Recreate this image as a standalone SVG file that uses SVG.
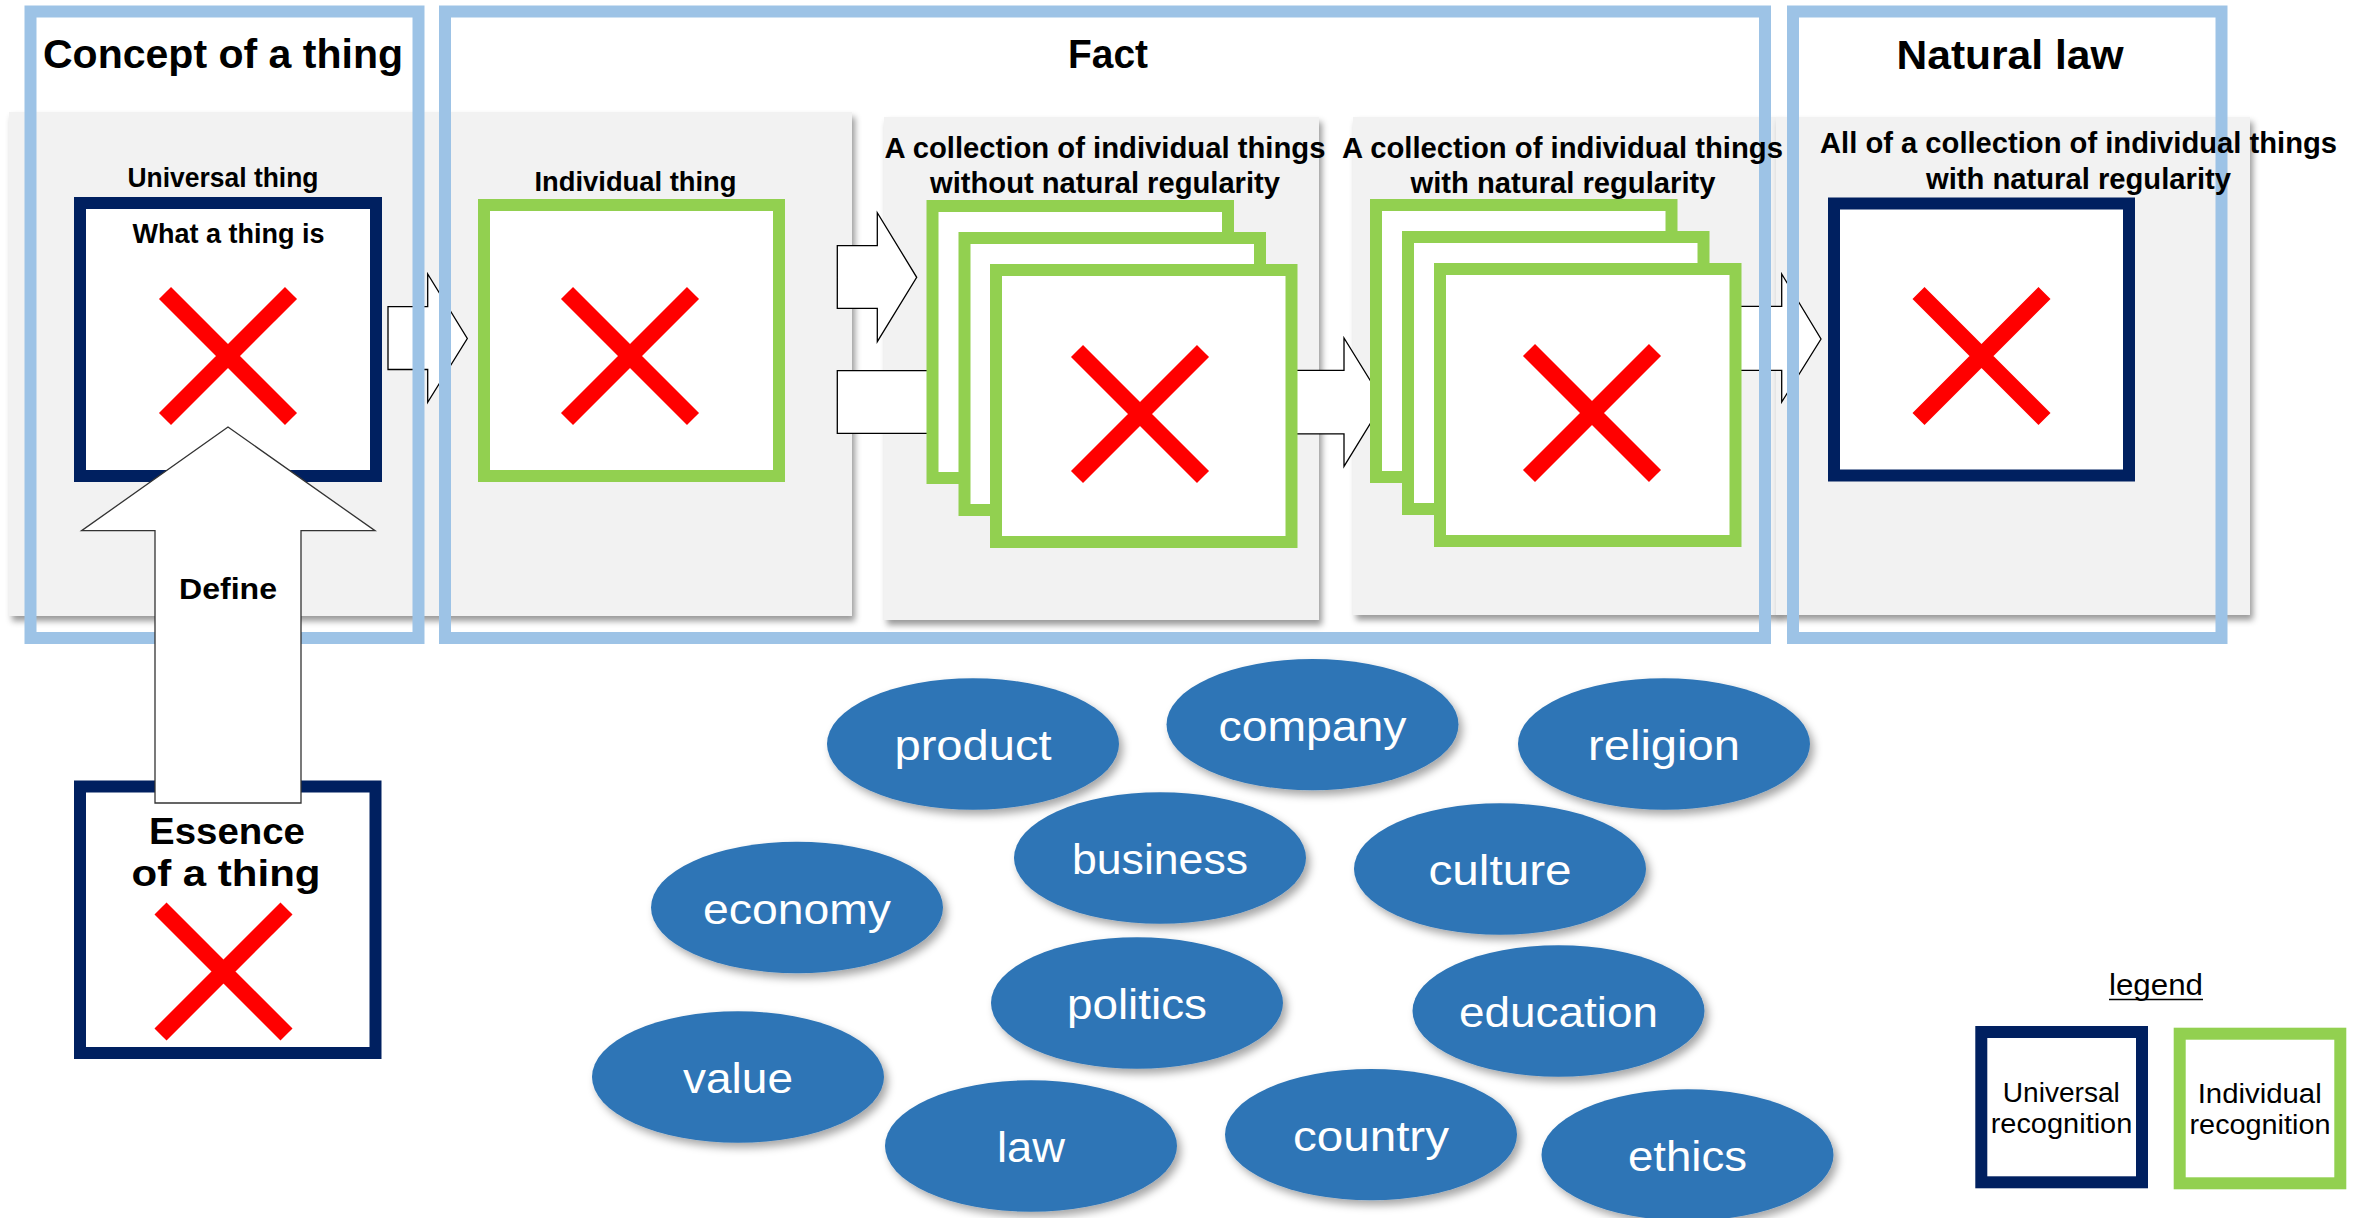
<svg xmlns="http://www.w3.org/2000/svg" width="2358" height="1218" viewBox="0 0 2358 1218">
<defs>
<filter id="psh" x="-5%" y="-5%" width="110%" height="115%">
<feDropShadow dx="3" dy="5" stdDeviation="3" flood-color="#000" flood-opacity="0.4"/>
</filter>
<filter id="esh" x="-10%" y="-15%" width="125%" height="135%">
<feDropShadow dx="4" dy="5" stdDeviation="4" flood-color="#000" flood-opacity="0.35"/>
</filter>
<style>
.panel{fill:#F2F2F2;filter:url(#psh)}
.frame{fill:none;stroke:#9DC3E6;stroke-width:12}
.navy{fill:#fff;stroke:#002060;stroke-width:12}
.green{fill:#fff;stroke:#92D050;stroke-width:12}
.x{fill:none;stroke:#FF0000;stroke-width:17;stroke-linecap:butt}
.arrow{fill:#fff;stroke:#000;stroke-width:1.3;stroke-linejoin:miter}
.darrow{fill:#fff;stroke:#333;stroke-width:1.3;stroke-linejoin:miter}
.ell{fill:#2E75B6;filter:url(#esh)}
.t{font-family:"Liberation Sans",Arial,sans-serif;fill:#000;text-anchor:middle}
.b{font-weight:bold}
.hd{font-size:40px}
.sub{font-size:27px}
.sub2{font-size:29px}
.et{font-family:"Liberation Sans",Arial,sans-serif;font-size:42px;fill:#fff;text-anchor:middle}
.lg{font-size:27px}
</style>
</defs>
<rect width="2358" height="1218" fill="#fff"/>

<g id="panels">
<rect class="panel" x="9" y="112" width="843" height="504"/>
<rect class="panel" x="884" y="117" width="435" height="503"/>
<rect class="panel" x="1353" y="117" width="425" height="498"/>
<rect class="panel" x="1776" y="117" width="474" height="498"/>
</g>

<g id="topics">
<g id="n-product"><ellipse class="ell" cx="973" cy="744" rx="146" ry="65.7"/><text class="et" x="973" y="760" textLength="157" lengthAdjust="spacingAndGlyphs">product</text></g>
<g id="n-company"><ellipse class="ell" cx="1312.5" cy="724.6" rx="146" ry="65.7"/><text class="et" x="1312.5" y="740.6" textLength="188" lengthAdjust="spacingAndGlyphs">company</text></g>
<g id="n-religion"><ellipse class="ell" cx="1664" cy="744" rx="146" ry="65.7"/><text class="et" x="1664" y="760" textLength="152" lengthAdjust="spacingAndGlyphs">religion</text></g>
<g id="n-business"><ellipse class="ell" cx="1160" cy="858" rx="146" ry="65.7"/><text class="et" x="1160" y="874" textLength="176" lengthAdjust="spacingAndGlyphs">business</text></g>
<g id="n-culture"><ellipse class="ell" cx="1500" cy="869" rx="146" ry="65.7"/><text class="et" x="1500" y="885" textLength="143" lengthAdjust="spacingAndGlyphs">culture</text></g>
<g id="n-economy"><ellipse class="ell" cx="797" cy="907.5" rx="146" ry="65.7"/><text class="et" x="797" y="923.5" textLength="188" lengthAdjust="spacingAndGlyphs">economy</text></g>
<g id="n-politics"><ellipse class="ell" cx="1137" cy="1003" rx="146" ry="65.7"/><text class="et" x="1137" y="1019" textLength="140" lengthAdjust="spacingAndGlyphs">politics</text></g>
<g id="n-education"><ellipse class="ell" cx="1558.5" cy="1011" rx="146" ry="65.7"/><text class="et" x="1558.5" y="1027" textLength="199" lengthAdjust="spacingAndGlyphs">education</text></g>
<g id="n-value"><ellipse class="ell" cx="738" cy="1077" rx="146" ry="65.7"/><text class="et" x="738" y="1093" textLength="110" lengthAdjust="spacingAndGlyphs">value</text></g>
<g id="n-law"><ellipse class="ell" cx="1031" cy="1146" rx="146" ry="65.7"/><text class="et" x="1031" y="1162" textLength="68" lengthAdjust="spacingAndGlyphs">law</text></g>
<g id="n-country"><ellipse class="ell" cx="1371" cy="1134.6" rx="146" ry="65.7"/><text class="et" x="1371" y="1150.6" textLength="156" lengthAdjust="spacingAndGlyphs">country</text></g>
<g id="n-ethics"><ellipse class="ell" cx="1687.5" cy="1155" rx="146" ry="65.7"/><text class="et" x="1687.5" y="1171" textLength="119" lengthAdjust="spacingAndGlyphs">ethics</text></g>
</g>

<g id="connectors">
<polygon class="arrow" points="388,306.7 427.7,306.7 427.7,274 467.3,338.5 427.7,402.3 427.7,369.5 388,369.5"/>
<polygon class="arrow" points="837.3,245.7 877.3,245.7 877.3,212.7 916.7,277.3 877.3,341.7 877.3,308.3 837.3,308.3"/>
<polygon class="arrow" points="837.3,370.7 950,370.7 950,338 990,402 950,466 950,433.3 837.3,433.3"/>
<polygon class="arrow" points="1280,370.3 1344,370.3 1344,338 1383.5,402 1344,466.4 1344,433.8 1280,433.8"/>
<polygon class="arrow" points="1735,306.4 1781.7,306.4 1781.7,274 1821,339 1781.7,402 1781.7,370.4 1735,370.4"/>
</g>

<g id="frames">
<rect class="frame" x="30.5" y="11.5" width="388" height="626.5"/>
<rect class="frame" x="445" y="11.5" width="1320" height="626.5"/>
<rect class="frame" x="1793" y="11.5" width="428.5" height="626.5"/>
<text class="t b hd" x="223" y="68" textLength="360" lengthAdjust="spacingAndGlyphs">Concept of a thing</text>
<text class="t b hd" x="1108" y="68" textLength="80" lengthAdjust="spacingAndGlyphs">Fact</text>
<text class="t b hd" x="2010" y="69" textLength="227" lengthAdjust="spacingAndGlyphs">Natural law</text>
</g>

<g id="universal-thing">
<rect class="navy" x="80" y="203" width="296" height="273"/>
<path class="x" d="M165,293 L291,419 M291,293 L165,419"/>
<text class="t b sub" x="223" y="187" textLength="191" lengthAdjust="spacingAndGlyphs">Universal thing</text>
<text class="t b sub" x="228.5" y="242.5" textLength="192" lengthAdjust="spacingAndGlyphs">What a thing is</text>
</g>

<g id="individual-thing">
<rect class="green" x="484" y="205" width="295" height="271"/>
<path class="x" d="M567,293 L693,419 M693,293 L567,419"/>
<text class="t b sub" x="635.5" y="190.7" textLength="202" lengthAdjust="spacingAndGlyphs">Individual thing</text>
</g>

<g id="collection-without">
<rect class="green" x="932.5" y="206" width="295.5" height="272"/>
<rect class="green" x="964.5" y="238" width="295.5" height="272"/>
<rect class="green" x="996" y="270" width="295.5" height="272"/>
<path class="x" d="M1077,351 L1203,477 M1203,351 L1077,477"/>
<text class="t b sub2" x="1105" y="157.5" textLength="441" lengthAdjust="spacingAndGlyphs">A collection of individual things</text>
<text class="t b sub2" x="1105" y="193" textLength="350" lengthAdjust="spacingAndGlyphs">without natural regularity</text>
</g>

<g id="collection-with">
<rect class="green" x="1376" y="205" width="295.5" height="272"/>
<rect class="green" x="1408" y="237" width="295.5" height="272"/>
<rect class="green" x="1440" y="269" width="295.5" height="272"/>
<path class="x" d="M1529,350 L1655,476 M1655,350 L1529,476"/>
<text class="t b sub2" x="1562.5" y="157.5" textLength="441" lengthAdjust="spacingAndGlyphs">A collection of individual things</text>
<text class="t b sub2" x="1563" y="193" textLength="305" lengthAdjust="spacingAndGlyphs">with natural regularity</text>
</g>

<g id="all-collection">
<rect class="navy" x="1834" y="203.5" width="295" height="272"/>
<path class="x" d="M1918.5,293 L2044.5,419 M2044.5,293 L1918.5,419"/>
<text class="t b sub2" x="2078.5" y="153.4" textLength="517" lengthAdjust="spacingAndGlyphs">All of a collection of individual things</text>
<text class="t b sub2" x="2078.5" y="188.6" textLength="305" lengthAdjust="spacingAndGlyphs">with natural regularity</text>
</g>

<g id="essence">
<rect class="navy" x="80" y="786.5" width="295.5" height="266.5"/>
<path class="x" d="M160.5,908.5 L286.5,1034.5 M286.5,908.5 L160.5,1034.5"/>
<text class="t b" style="font-size:36px" x="227" y="843.6" textLength="156" lengthAdjust="spacingAndGlyphs">Essence</text>
<text class="t b" style="font-size:36px" x="226" y="885.8" textLength="189" lengthAdjust="spacingAndGlyphs">of a thing</text>
</g>

<g id="connector-define">
<polygon class="darrow" points="228,427 375,530.7 301,530.7 301,803 155,803 155,530.7 81.6,530.7"/>
<text class="t b" style="font-size:30px" x="228" y="599" textLength="98" lengthAdjust="spacingAndGlyphs">Define</text>
</g>

<g id="legend">
<text class="t" style="font-size:30px" x="2156" y="995" textLength="94" lengthAdjust="spacingAndGlyphs">legend</text>
<line x1="2109" y1="999.5" x2="2203" y2="999.5" stroke="#000" stroke-width="1.5"/>
<g id="legend-universal">
<rect class="navy" x="1981.3" y="1032" width="160.7" height="150.3"/>
<text class="t lg" x="2061.3" y="1102.3" textLength="117" lengthAdjust="spacingAndGlyphs">Universal</text>
<text class="t lg" x="2061.5" y="1133.3" textLength="141.7" lengthAdjust="spacingAndGlyphs">recognition</text>
</g>
<g id="legend-individual">
<rect class="green" x="2179.7" y="1033.7" width="160.6" height="149.6"/>
<text class="t lg" x="2259.7" y="1103.3" textLength="124" lengthAdjust="spacingAndGlyphs">Individual</text>
<text class="t lg" x="2260" y="1134" textLength="141" lengthAdjust="spacingAndGlyphs">recognition</text>
</g>
</g>
</svg>
